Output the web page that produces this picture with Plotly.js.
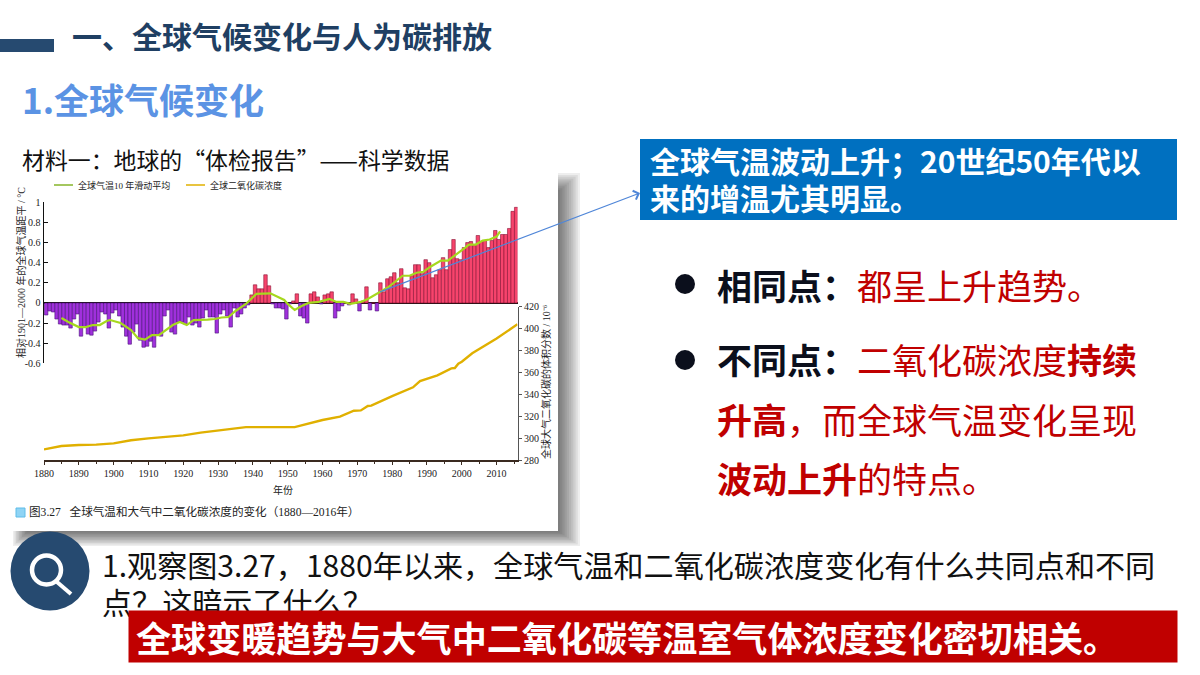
<!DOCTYPE html>
<html><head><meta charset="utf-8">
<script src="https://cdn.plot.ly/plotly-3.0.1.min.js"></script>
<style>html,body{margin:0;padding:0;background:#fff}#c{width:1200px;height:675px}</style>
</head><body><div id="c"></div>
<script>
// ---------- data ----------
var barYears = [];
for (var yr = 1880; yr <= 2015; yr++) barYears.push(yr);
var tempAnomaly = [
 -.12,-.08,-.09,-.16,-.21,-.22,-.22,-.25,-.16,-.11,
 -.33,-.24,-.31,-.32,-.28,-.19,-.09,-.11,-.25,-.10,
 -.07,-.13,-.24,-.33,-.41,-.29,-.21,-.37,-.44,-.43,
 -.38,-.44,-.32,-.33,-.13,-.07,-.29,-.31,-.19,-.19,
 -.21,-.14,-.22,-.20,-.24,-.15,-.07,-.14,-.14,-.30,
 -.11,-.07,-.13,-.24,-.05,-.14,-.11,-.05,-.02,.08,
 .18,.14,.14,.28,.17,-.01,-.05,-.05,-.06,-.16,
 -.01,.02,.09,-.13,-.15,-.20,.09,.11,.06,-.01,
 .08,.09,.11,-.15,-.08,-.03,.00,-.02,.09,.04,
 -.08,.02,.16,-.07,.00,-.08,
 .20,.11,.24,.26,.30,.20,.34,.15,.14,.27,
 .38,.38,.29,.43,.40,.25,.28,.33,.45,.33,
 .53,.63,.44,.43,.55,.60,.61,.57,.67,.61,
 .62,.55,.62,.72,.63,.68,.68,.74,.91,.95
];
var avgYears = [1885,1887,1890,1892,1894,1896,1898,1899,1901,1902,1905,1906,1907,1909,1911,1913,1915,1917,1919,1921,1923,1925,1927,1929,1931,1933,1935,1938,1941,1945,1948,1949,1950,1952,1954,1956,1959,1962,1964,1966,1968,1971,1973,1976,1979,1983,1985,1987,1989,1991,1994,1996,1998,2001,2002,2004,2006,2008,2010,2011];
var avgTemp = [-.15,-.19,-.24,-.24,-.22,-.22,-.18,-.17,-.19,-.2,-.27,-.31,-.35,-.365,-.32,-.32,-.27,-.22,-.19,-.22,-.17,-.17,-.165,-.16,-.145,-.14,-.08,-.01,.09,.095,.04,.03,-.01,-.07,-.03,0,.01,.04,.01,.01,-.01,.01,.04,.1,.16,.27,.27,.3,.31,.36,.42,.42,.47,.55,.58,.58,.62,.63,.66,.71];
var co2Years = [1880,1885,1890,1895,1900,1905,1910,1915,1920,1925,1930,1935,1938,1952,1960,1965,1967,1969,1971,1973,1974,1980,1986,1988,1993,1997,1998,1999,2000,2003,2010,2016];
var co2Ppm = [289.7,292.8,293.7,294,295.2,298,299.8,301.3,302.5,305,307,309,310,310,316.5,319.6,322,325,325.3,329.3,329.6,338.4,346.4,352,357.3,363.7,364,368,369.8,377.4,391,404];
var tempTicks = [1,.8,.6,.4,.2,0,-.2,-.4,-.6];
var tempTickText = ['1','0.8','0.6','0.4','0.2','0','-0.2','-0.4','-0.6'];
var co2Ticks = [280,300,320,340,360,380,400,420];
var avgName = '全球气温10 年滑动平均';
var co2Name = '全球二氧化碳浓度';

// ---------- pixel helpers ----------
var W = 1200, H = 675;
function px(x){return x/W;}
function py(y){return 1-y/H;}
var CJK = '"Noto Sans CJK SC","Noto Sans",sans-serif';
var SERIF = '"Liberation Serif","Noto Sans CJK SC",serif';
var RED = '#c00000', NAVY = '#264a70', GREEN = '#a6d81e', GOLD = '#e0b000';
function ann(text,x,y,size,color,opt){
  var a = {text:text,xref:'paper',yref:'paper',x:px(x),y:py(y),xanchor:'left',yanchor:'middle',
    showarrow:false,align:'left',borderpad:0,font:{family:CJK,size:size,color:color}};
  for (var k in (opt||{})) a[k]=opt[k];
  return a;
}
function rect(x0,y0,x1,y1,color,extra){
  var s = {type:'rect',xref:'paper',yref:'paper',x0:px(x0),x1:px(x1),y0:py(y1),y1:py(y0),
    fillcolor:color,line:{width:0},layer:'below'};
  for (var k in (extra||{})) s[k]=extra[k];
  return s;
}
function hline(x0,x1,y,color,w){
  return {type:'line',xref:'paper',yref:'paper',x0:px(x0),x1:px(x1),y0:py(y),y1:py(y),
    line:{color:color,width:w},layer:'below'};
}
function B(t){return '<b>'+t+'</b>';}
function R(t){return '<span style="color:'+RED+'">'+t+'</span>';}

// ---------- panel shadow + slide shapes ----------
var shapes = [];
for (var i = 10; i >= 0; i--) {
  shapes.push(rect(28-1.5*i,192-1.9*i,558+2.2*i,531+1.5*i,'rgba(0,0,0,0.065)'));
}
shapes.push(rect(13,173,558,531,'#ffffff'));
shapes.push(rect(0,39,54,52,NAVY));
shapes.push(rect(640,139,1177,220,'#0070c0'));
shapes.push(rect(16,508,25,517,'#8fd4f5',{line:{width:1,color:'#5fbce8'}}));
shapes.push(hline(54,73,185,'#86b52a',1.5));
shapes.push(hline(186,205,185,GOLD,1.5));
function circle(cx,cy,r,fill,line){
  return {type:'circle',xref:'paper',yref:'paper',x0:px(cx-r),x1:px(cx+r),y0:py(cy+r),y1:py(cy-r),
    fillcolor:fill,line:line||{width:0},layer:'below'};
}
shapes.push(circle(685,284,10,'#0b0f1c'));
shapes.push(circle(685,360,10,'#0b0f1c'));
shapes.push(circle(50,571,39.5,NAVY));
shapes.push(circle(46.5,570,14.5,'rgba(0,0,0,0)',{width:4.5,color:'#fff'}));
shapes.push({type:'line',xref:'paper',yref:'paper',x0:px(57),y0:py(582),x1:px(71),y1:py(594),
  line:{color:'#fff',width:4},layer:'below'});

// ---------- text ----------
var annotations = [
  ann(B('一、全球气候变化与人为碳排放'),71,35,30,'#1f3f63'),
  ann(B('1.全球气候变化'),21,98,35,'#5b93e4'),
  ann('材料一：地球的“体检报告”——科学数据',21,159,22.9,'#111'),
  ann(B('全球气温波动上升；20世纪50年代以'),649,160,30,'#fff'),
  ann(B('来的增温尤其明显。'),649,197,30,'#fff'),
  ann(B('相同点：')+R('都呈上升趋势。'),716,284,35,'#0b0f1c'),
  ann(B('不同点：')+R('二氧化碳浓度'+B('持续')),716,359,35,'#0b0f1c'),
  ann(R(B('升高')+'，而全球气温变化呈现'),716,418,35,'#0b0f1c'),
  ann(R(B('波动上升')+'的特点。'),716,477,35,'#0b0f1c'),
  ann(avgName,77,185,9,'#222',{font:{family:SERIF,size:9,color:'#222'}}),
  ann(co2Name,209,185,9,'#222',{font:{family:SERIF,size:9,color:'#222'}}),
  ann('相对1901—2000 年的全球气温距平 / °C',21,273,10,'#222',{textangle:-90,xanchor:'center',font:{family:SERIF,size:10,color:'#222'}}),
  ann('全球大气二氧化碳的体积分数 / 10⁻⁶',546,382,10,'#222',{textangle:-90,xanchor:'center',font:{family:SERIF,size:10,color:'#222'}}),
  ann('年份',283,490,10,'#222',{xanchor:'center',font:{family:SERIF,size:10,color:'#222'}}),
  ann('图3.27   全球气温和大气中二氧化碳浓度的变化（1880—2016年）',28,512,11.6,'#222',{font:{family:SERIF,size:11.6,color:'#222'}}),
  ann('1.观察图3.27，1880年以来，全球气温和二氧化碳浓度变化有什么共同点和不同',101,564,30.1,'#111'),
  ann('点？这暗示了什么？',101,601,30.1,'#111'),
  ann(' ',128,636.5,34,'#fff',{bgcolor:RED,width:1048,height:51}),
  ann(B('全球变暖趋势与大气中二氧化碳等温室气体浓度变化密切相关。'),135,636,35.1,'#fff'),
  {text:' ',xref:'paper',yref:'paper',x:px(640),y:py(193),showarrow:true,axref:'pixel',ayref:'pixel',
   ax:-263,ay:100,arrowcolor:'#4f86d8',arrowwidth:1.2,arrowhead:4,arrowsize:1.5,standoff:0}
];

// ---------- traces ----------
var barColors = tempAnomaly.map(function(v){return v<0?'#a030dc':'#f6446c';});
var barEdges = tempAnomaly.map(function(v){return v<0?'#4a1478':'#8a1436';});
var traces = [
 {type:'bar',x:barYears,y:tempAnomaly,width:1,offset:0.12,showlegend:false,hoverinfo:'skip',xaxis:'x',yaxis:'y',
  marker:{color:barColors,line:{color:barEdges,width:0.6}}},
 {type:'scatter',mode:'lines',name:avgName,x:avgYears,y:avgTemp,xaxis:'x',yaxis:'y',showlegend:false,
  line:{color:GREEN,width:2.2}},
 {type:'scatter',mode:'lines',name:co2Name,x:co2Years,y:co2Ppm,xaxis:'x',yaxis:'y2',showlegend:false,
  line:{color:GOLD,width:2.4}}
];

var layout = {
  width:W,height:H,margin:{l:0,r:0,t:0,b:0},showlegend:false,
  paper_bgcolor:'#ffffff',plot_bgcolor:'rgba(0,0,0,0)',bargap:0,
  xaxis:{domain:[px(44),px(517.5)],range:[1880,2016],anchor:'y2',showgrid:false,zeroline:false,
    dtick:10,tick0:1880,ticks:'outside',ticklen:3,tickwidth:1,tickcolor:'#3a2a20',
    showline:true,linecolor:'#3a2a20',linewidth:1.5,
    minor:{dtick:5,ticks:'outside',ticklen:2,tickcolor:'#3a2a20'},
    tickfont:{family:SERIF,size:10,color:'#222'}},
  yaxis:{domain:[py(363.3),py(202.3)],range:[-.6,1],anchor:'x',side:'left',showgrid:false,
    tickmode:'array',tickvals:tempTicks,ticktext:tempTickText,ticks:'inside',ticklen:4,tickwidth:1,tickcolor:'#111',
    showline:true,linecolor:'#111',linewidth:1.5,zeroline:true,zerolinecolor:'#1a1010',zerolinewidth:1.6,
    tickfont:{family:SERIF,size:10,color:'#222'}},
  yaxis2:{domain:[py(460),py(306.7)],range:[280,420],anchor:'x',side:'right',showgrid:false,zeroline:false,
    tickmode:'array',tickvals:co2Ticks,ticks:'outside',ticklen:3,tickwidth:1,tickcolor:'#555',
    showline:true,linecolor:'#555',linewidth:1.5,
    tickfont:{family:SERIF,size:10,color:'#222'}},
  shapes:shapes,annotations:annotations
};
Plotly.newPlot('c',traces,layout,{displayModeBar:false,staticPlot:true});
</script></body></html>
